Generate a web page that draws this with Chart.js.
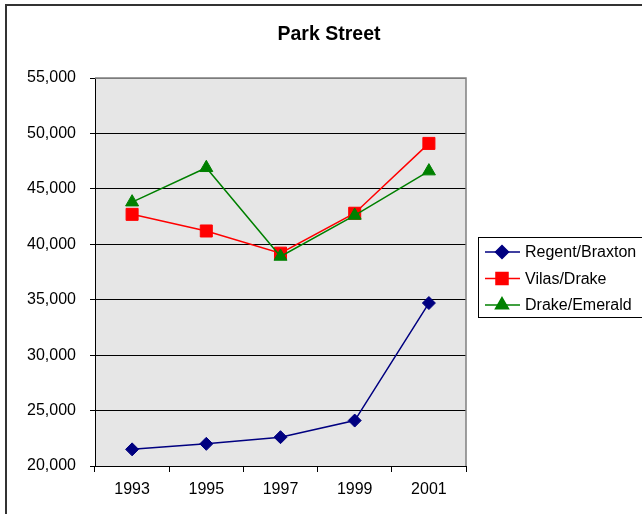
<!DOCTYPE html>
<html>
<head>
<meta charset="utf-8">
<script src="https://cdn.jsdelivr.net/npm/chart.js@4.4.1/dist/chart.umd.min.js"></script>
<style>
  html, body { margin: 0; padding: 0; background: #fff; }
  #wrap { width: 642px; height: 514px; }
</style>
</head>
<body>
<div id="wrap"><canvas id="chart" width="642" height="514"></canvas></div>
<script>
// valeurs
const years = ['1993', '1995', '1997', '1999', '2001'];
const regentBraxton = [21500, 22000, 22600, 24100, 34700];
const vilasDrake = [42700, 41200, 39200, 42800, 49100];
const drakeEmerald = [43800, 46900, 38900, 42600, 46600];
const yTicks = [20000, 25000, 30000, 35000, 40000, 45000, 50000, 55000];
const chartTitle = 'Park Street';

const FONT = '"Liberation Sans", Arial, sans-serif';

// fond gris, cadre, titre et légende encadrée façon Excel
const excelLook = {
  id: 'excelLook',
  beforeDraw(chart) {
    const { ctx, chartArea: a } = chart;
    ctx.save();
    ctx.fillStyle = '#fff';
    ctx.fillRect(0, 0, chart.width, chart.height);
    ctx.strokeStyle = '#333';
    ctx.lineWidth = 2;
    ctx.strokeRect(6, 5, 700, 600);
    ctx.fillStyle = '#e6e6e6';
    ctx.fillRect(a.left, a.top, a.width, a.height);
    ctx.restore();
  },
  beforeDatasetsDraw(chart) {
    const { ctx, chartArea: a } = chart;
    ctx.save();
    ctx.strokeStyle = '#808080';
    ctx.lineWidth = 1.5;
    ctx.beginPath();
    ctx.moveTo(a.left, a.top);
    ctx.lineTo(a.right, a.top);
    ctx.lineTo(a.right, a.bottom);
    ctx.stroke();
    ctx.restore();
  },
  afterDraw(chart) {
    const ctx = chart.ctx;
    ctx.save();
    ctx.fillStyle = '#000';
    ctx.font = 'bold 19.5px ' + FONT;
    ctx.textAlign = 'center';
    ctx.textBaseline = 'middle';
    ctx.fillText(chartTitle, 329, 35);

    ctx.strokeStyle = '#000';
    ctx.lineWidth = 1;
    ctx.strokeRect(478.5, 237.5, 200, 80);
    ctx.textAlign = 'left';
    ctx.font = '16px ' + FONT;
    chart.data.datasets.forEach((ds, i) => {
      const y = 252 + i * 26.5;
      ctx.strokeStyle = ds.borderColor;
      ctx.lineWidth = ds.borderWidth;
      ctx.beginPath();
      ctx.moveTo(485, y);
      ctx.lineTo(520, y);
      ctx.stroke();
      ctx.fillStyle = ds.pointBackgroundColor;
      ctx.strokeStyle = ds.pointBorderColor;
      Chart.helpers.drawPoint(ctx, { pointStyle: ds.pointStyle, radius: ds.pointRadius, borderWidth: 1, rotation: 0 }, 502, y);
      ctx.fillStyle = '#000';
      ctx.fillText(ds.label, 525, y + 1);
    });
    ctx.restore();
  }
};

function serie(label, data, color, style, radius, order) {
  return {
    label, data, order,
    borderColor: color, borderWidth: 1.5,
    pointStyle: style, pointRadius: radius, pointHoverRadius: radius,
    pointBackgroundColor: color, pointBorderColor: color, pointBorderWidth: 1,
    tension: 0
  };
}

new Chart(document.getElementById('chart'), {
  type: 'line',
  data: {
    labels: years,
    datasets: [
      serie('Regent/Braxton', regentBraxton, '#000080', 'rectRot', 6.5, 2),
      serie('Vilas/Drake', vilasDrake, '#ff0000', 'rect', 8.5, 1),
      serie('Drake/Emerald', drakeEmerald, '#008000', 'triangle', 7.5, 0)
    ]
  },
  options: {
    responsive: false,
    animation: false,
    devicePixelRatio: 1,
    layout: { padding: { left: 0, top: 78, right: 176, bottom: 0 } },
    plugins: { legend: { display: false }, title: { display: false }, tooltip: { enabled: false } },
    scales: {
      x: {
        offset: true,
        ticks: { color: '#000', font: { size: 16, family: FONT }, padding: 8, maxRotation: 0 },
        grid: { drawOnChartArea: false, offset: true, tickLength: 6, color: '#000', tickColor: '#000' },
        border: { color: '#000', width: 1 },
        afterFit(s) { s.height = 48; }
      },
      y: {
        min: yTicks[0],
        max: yTicks[yTicks.length - 1],
        afterBuildTicks(s) { s.ticks = yTicks.map(v => ({ value: v })); },
        ticks: {
          color: '#000', font: { size: 16, family: FONT }, padding: 14,
          callback: v => v.toLocaleString('en-US')
        },
        grid: {
          color: c => (c.tick && c.tick.value === yTicks[yTicks.length - 1]) ? '#707070' : '#000',
          tickColor: '#000', tickLength: 5, lineWidth: 1
        },
        border: { color: '#000', width: 1 },
        afterFit(s) { s.width = 95; }
      }
    }
  },
  plugins: [excelLook]
});
</script>
</body>
</html>
